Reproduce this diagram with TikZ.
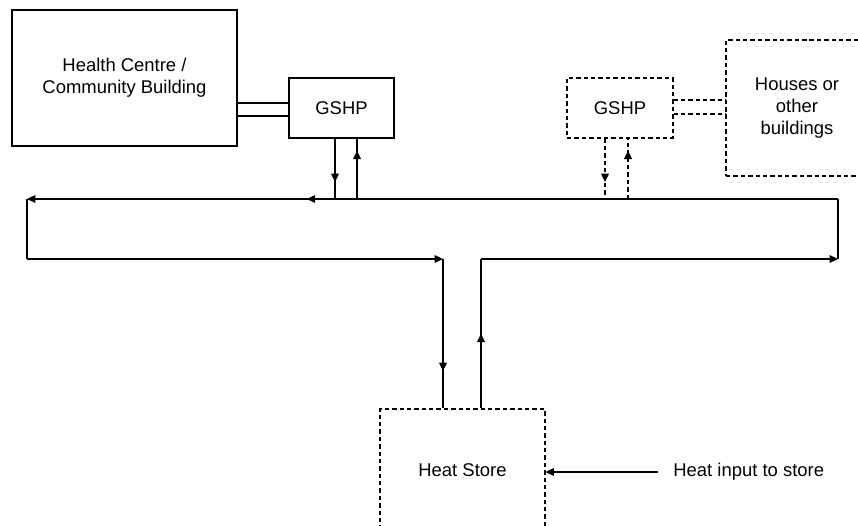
\documentclass[tikz,border=0pt]{standalone}
\usepackage{fontspec}
\setmainfont{Liberation Sans}
\usetikzlibrary{arrows.meta, decorations.markings, positioning}

\tikzset{
  caja/.style={draw, line width=0.6pt, align=center, inner sep=0pt, font=\fontsize{10.5}{12.6}\selectfont},
  cajapunteada/.style={caja, dash pattern=on 2.5pt off 1.7pt},
  tubo/.style={line width=0.6pt},
  tuboretorno/.style={line width=1pt},
  tubopunteado/.style={line width=0.7pt, dash pattern=on 2.5pt off 1.7pt},
  punta/.tip={Triangle[length=4.8pt, width=4.4pt]},
  flechaen/.style={postaction={decorate}, decoration={markings, mark=at position #1 with {\arrow{punta}}}},
}

\begin{document}
\begin{tikzpicture}[x=0.02cm, y=-0.02cm]
    % Limites del dibujo (en pixeles de la imagen)
    \useasboundingbox (0,0) rectangle (858,526);
    \clip (0,0) rectangle (858,526);

    % Edificios y bombas de calor
    \node[caja, minimum width=4.5cm, minimum height=2.72cm] (salud) at (124.5,78) {Health Centre /\\Community Building};
    \node[caja, minimum width=2.1cm, minimum height=1.2cm] (gshpA) at (341.5,108) {GSHP};
    \node[cajapunteada, minimum width=2.12cm, minimum height=1.2cm] (gshpB) at (620,108) {GSHP};
    \node[cajapunteada, minimum width=2.84cm, minimum height=2.72cm] (casas) at (797,108) {Houses or\\other\\buildings};

    % Almacen de calor y su entrada
    \node[cajapunteada, minimum width=3.3cm, minimum height=2.44cm] (almacen) at (462.5,470) {Heat Store};
    \node[anchor=west, inner sep=2pt, font=\fontsize{10.5}{12.6}\selectfont] (entrada) at (669.5,472) {Heat input to store};
    \draw[tubo, -punta] ([xshift=-0.23cm]entrada.west) -- (entrada.west -| almacen.east);

    % Uniones entre edificios y GSHP
    \coordinate (hA1) at ([yshift=0.1cm]gshpA.west);
    \coordinate (hA2) at ([yshift=-0.16cm]gshpA.west);
    \draw[tubo] (hA1) -- (hA1 -| salud.east);
    \draw[tubo] (hA2) -- (hA2 -| salud.east);
    \coordinate (hB1) at ([yshift=0.16cm]gshpB.east);
    \coordinate (hB2) at ([yshift=-0.12cm]gshpB.east);
    \draw[tubopunteado, line width=0.6pt] (hB1) -- (hB1 -| casas.west);
    \draw[tubopunteado, line width=1pt] (hB2) -- (hB2 -| casas.west);

    % Esquinas del circuito principal
    \coordinate (si) at (27,199);
    \coordinate (sd) at (838,199);
    \coordinate (ii) at (27,259);
    \coordinate (id) at (838,259);
    \coordinate (ba) at (443,259);
    \coordinate (su) at (481,259);

    % Circuito principal
    \draw[tubo, -punta] (su) -- (id);
    \draw[tubo] (id) -- (sd);
    \draw[tubo, -punta, flechaen=0.655] (sd) -- (si);
    \draw[tubo] (si) -- (ii);
    \draw[tubo, -punta] (ii) -- (ba);

    % Bajada y subida al almacen
    \draw[tubo, flechaen=0.75] (ba) -- (ba |- almacen.north);
    \draw[tuboretorno, flechaen=0.5] (su |- almacen.north) -- (su);

    % Conexiones de la GSHP del centro
    \coordinate (gA1) at (335,199);
    \coordinate (gA2) at (357,199);
    \draw[tubo, flechaen=0.72] (gA1 |- gshpA.south) -- (gA1);
    \draw[tuboretorno, flechaen=0.8] (gA2) -- (gA2 |- gshpA.south);

    % Conexiones de la GSHP de las casas
    \coordinate (gB1) at (605,199);
    \coordinate (gB2) at (628,199);
    \draw[tubopunteado, flechaen=0.72] (gB1 |- gshpB.south) -- (gB1);
    \draw[tubopunteado, line width=1pt, flechaen=0.8] (gB2) -- (gB2 |- gshpB.south);

\end{tikzpicture}
\end{document}
